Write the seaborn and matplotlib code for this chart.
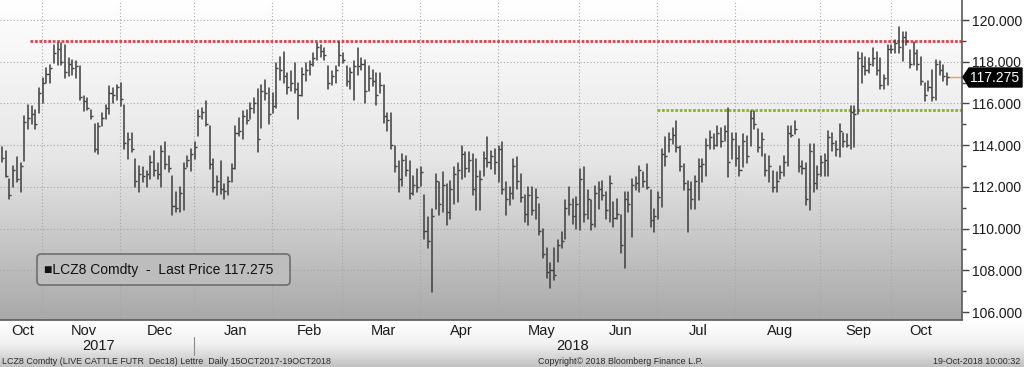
import numpy as np
import pandas as pd
import seaborn as sns
import matplotlib.pyplot as plt
from matplotlib.colors import LinearSegmentedColormap
from matplotlib.patches import FancyBboxPatch, Polygon
from matplotlib.ticker import FormatStrFormatter, MultipleLocator
import matplotlib.transforms as mtrans

# ---- data (LCZ8 daily bars, 16 Oct 2017 - 19 Oct 2018) ----
month_labels = ["Oct", "Nov", "Dec", "Jan", "Feb", "Mar", "Apr",
                "May", "Jun", "Jul", "Aug", "Sep", "Oct"]
days_per_month = [12, 21, 20, 21, 19, 21, 21, 22, 21, 21, 23, 19, 15]
year_labels = ["2017", "2018"]

high = [
    113.9, 113.73, 112.38, 113.02, 113.41, 113.17, 115.40, 115.95, 115.87, 115.71,
    116.75, 117.22, 117.70, 117.86, 118.81, 118.89, 118.89, 118.81, 118.17, 118.10,
    118.02, 117.78, 116.35, 116.27, 115.71, 115.0, 115.08, 115.56, 115.95, 116.83,
    116.75, 116.90, 116.98, 115.95, 114.60, 114.60, 113.33, 113.02, 112.94, 112.78,
    113.49, 113.73, 113.17, 113.97, 114.13, 113.49, 112.54, 111.75, 111.98, 113.17,
    113.49, 113.81, 114.13, 115.71, 115.79, 116.11, 114.92, 113.33, 112.54, 113.25,
    112.14, 112.46, 113.10, 114.92, 115.32, 115.63, 115.71, 116.03, 116.27, 116.67,
    116.90, 117.14, 116.75, 116.51, 117.94, 118.25, 118.49, 117.46, 117.54, 117.94,
    116.98, 117.70, 117.94, 118.02, 118.41, 118.89, 118.81, 118.65, 117.78, 117.54,
    117.78, 118.97, 118.41, 117.78, 117.70, 118.02, 118.65, 118.17, 118.10, 117.78,
    117.62, 117.46, 117.46, 116.90, 115.56, 115.56, 113.97, 113.25, 113.57, 113.49,
    113.25, 112.54, 112.86, 112.94, 111.59, 110.56, 110.95, 112.62, 112.22, 112.70,
    112.14, 112.30, 112.94, 113.17, 113.97, 113.65, 113.65, 113.57, 113.33, 112.78,
    113.65, 114.37, 113.73, 113.81, 113.97, 114.13, 112.22, 111.98, 113.33, 113.41,
    112.62, 111.59, 111.98, 111.98, 111.90, 111.19, 110.0, 109.05, 108.33, 109.05,
    109.44, 109.84, 111.35, 111.98, 111.43, 111.51, 112.86, 112.94, 111.83, 111.35,
    112.06, 112.22, 112.30, 111.75, 112.54, 111.27, 111.43, 110.63, 111.75, 111.75,
    112.38, 112.46, 113.02, 112.70, 113.10, 111.83, 110.95, 111.75, 113.81, 114.37,
    114.60, 114.84, 115.16, 113.97, 113.10, 112.30, 112.22, 112.54, 113.33, 113.33,
    114.29, 114.68, 114.52, 114.92, 114.84, 114.92, 115.79, 114.60, 114.60, 113.97,
    114.52, 114.44, 115.63, 115.63, 114.76, 114.60, 113.57, 113.49, 112.78, 112.70,
    113.02, 113.49, 114.92, 114.92, 115.16, 114.29, 113.25, 113.17, 114.05, 114.05,
    113.02, 113.49, 113.57, 114.68, 114.60, 114.21, 115.0, 114.60, 114.52, 115.87,
    115.87, 118.49, 118.41, 118.25, 118.17, 118.65, 118.49, 118.17, 117.38, 118.81,
    118.81, 119.05, 119.68, 119.44, 119.44, 118.57, 118.97, 118.57, 118.25, 116.98,
    117.06, 117.62, 118.10, 118.02, 117.86, 117.46,
]

low = [
    113.2, 112.46, 111.43, 111.98, 112.22, 111.75, 113.25, 114.76, 115.0, 114.76,
    115.56, 116.03, 116.98, 116.98, 117.94, 117.86, 117.86, 117.22, 117.30, 117.38,
    117.22, 116.19, 115.63, 115.71, 115.24, 113.65, 113.57, 114.92, 115.24, 115.48,
    116.03, 116.19, 115.87, 113.81, 113.33, 113.65, 111.98, 111.75, 112.22, 111.98,
    112.38, 112.54, 112.38, 111.98, 112.86, 112.70, 110.63, 110.79, 110.79, 110.87,
    112.94, 112.78, 113.33, 114.44, 115.24, 114.92, 112.86, 111.75, 111.59, 111.67,
    111.43, 111.59, 112.22, 112.86, 114.44, 114.29, 115.0, 115.24, 115.56, 113.65,
    114.84, 116.19, 115.0, 115.56, 115.79, 117.14, 116.98, 116.43, 116.59, 116.51,
    115.24, 116.35, 117.06, 117.38, 117.78, 118.10, 118.25, 118.10, 116.67, 116.90,
    116.98, 117.78, 117.94, 116.83, 116.67, 116.19, 117.38, 117.62, 116.03, 116.59,
    116.83, 115.95, 116.51, 115.08, 114.68, 113.81, 112.70, 111.75, 112.06, 112.54,
    111.43, 111.59, 111.75, 112.06, 109.52, 109.05, 106.98, 110.95, 110.63, 110.79,
    110.16, 110.48, 111.19, 111.27, 112.38, 112.46, 112.70, 111.59, 110.87, 110.87,
    112.54, 112.94, 112.86, 112.62, 112.22, 111.67, 110.63, 111.11, 111.43, 111.90,
    111.27, 110.32, 110.16, 110.63, 110.48, 109.68, 108.57, 107.62, 107.14, 107.54,
    108.41, 109.05, 109.52, 110.63, 110.24, 110.0, 109.92, 110.32, 110.48, 109.92,
    110.08, 110.95, 111.35, 110.48, 110.32, 110.08, 110.48, 108.81, 108.10, 110.79,
    109.60, 111.83, 111.75, 111.98, 111.90, 110.08, 109.84, 110.48, 111.03, 113.02,
    113.65, 114.05, 113.65, 112.78, 111.83, 109.84, 110.95, 110.95, 111.35, 112.22,
    112.54, 113.81, 113.81, 113.97, 113.89, 114.21, 112.46, 113.33, 113.02, 112.54,
    112.94, 113.17, 113.97, 114.76, 113.65, 113.49, 112.54, 112.22, 111.75, 111.75,
    112.38, 112.54, 113.02, 114.37, 114.52, 112.70, 112.62, 111.11, 110.87, 111.75,
    111.90, 112.54, 112.54, 112.54, 113.73, 113.49, 113.41, 113.89, 113.89, 113.81,
    113.89, 115.48, 116.98, 117.38, 117.46, 117.78, 117.38, 116.67, 116.67, 116.90,
    118.41, 118.41, 118.41, 118.02, 118.81, 117.70, 117.86, 117.62, 116.90, 116.11,
    116.59, 116.11, 116.19, 117.38, 117.06, 116.90,
]

close = [
    113.4, 112.5, 111.6, 112.8, 112.4, 113.0, 115.1, 115.3, 115.5, 115.0,
    116.5, 117.0, 117.4, 117.7, 118.4, 118.6, 118.0, 117.5, 117.9, 117.7,
    117.8, 116.3, 116.1, 115.8, 115.4, 113.8, 114.9, 115.3, 115.8, 116.5,
    116.4, 116.8, 116.2, 114.1, 114.3, 113.8, 112.3, 112.6, 112.5, 112.6,
    113.2, 112.8, 112.6, 113.7, 113.1, 112.9, 111.1, 111.0, 111.7, 112.9,
    113.3, 113.6, 113.9, 115.4, 115.6, 115.0, 113.1, 112.0, 112.3, 111.9,
    111.8, 112.3, 112.9, 114.6, 114.7, 115.4, 115.2, 115.8, 116.0, 114.3,
    116.6, 116.5, 115.5, 115.9, 117.7, 117.6, 117.3, 116.8, 117.0, 116.7,
    116.4, 117.4, 117.6, 117.9, 118.2, 118.7, 118.5, 118.3, 117.0, 117.3,
    117.6, 118.3, 118.1, 117.1, 117.5, 117.8, 117.8, 117.9, 116.6, 117.2,
    117.1, 116.4, 116.9, 115.4, 115.2, 114.0, 113.0, 112.4, 113.3, 112.8,
    111.7, 112.1, 112.0, 112.7, 109.9, 109.4, 110.6, 112.3, 111.2, 112.1,
    110.8, 111.9, 112.6, 112.8, 113.6, 112.9, 113.3, 111.9, 112.5, 112.4,
    113.4, 113.2, 113.5, 113.2, 113.8, 111.9, 111.4, 111.7, 113.0, 112.3,
    111.5, 110.7, 111.6, 110.9, 111.5, 109.9, 108.8, 107.9, 108.0, 107.8,
    109.2, 109.4, 111.0, 111.2, 110.6, 111.2, 112.4, 110.7, 111.4, 110.2,
    111.7, 111.9, 111.6, 110.9, 112.2, 110.5, 110.7, 109.2, 111.4, 111.2,
    112.1, 112.2, 112.8, 112.3, 112.0, 110.4, 110.6, 111.5, 113.6, 113.5,
    114.3, 114.5, 113.9, 113.0, 112.2, 111.9, 111.4, 112.3, 113.0, 113.1,
    114.0, 114.4, 114.0, 114.6, 114.2, 114.7, 113.2, 114.3, 113.4, 112.8,
    114.2, 113.5, 115.3, 115.0, 113.9, 114.3, 112.8, 113.0, 112.0, 112.3,
    112.7, 113.2, 114.6, 114.5, 114.8, 113.0, 112.9, 111.4, 113.7, 112.2,
    112.6, 113.2, 113.3, 114.4, 114.1, 113.8, 114.7, 114.2, 114.0, 115.6,
    115.5, 118.2, 117.8, 117.6, 117.9, 118.2, 117.6, 116.9, 117.2, 118.6,
    118.6, 118.9, 118.7, 119.2, 119.0, 117.9, 118.4, 117.9, 117.1, 116.4,
    116.8, 116.3, 117.9, 117.6, 117.3, 117.275,
]

last_price = 117.275
resistance = 119.0
support = 115.7

# ---- style ----
sns.set_style("white")
plt.rcParams['font.family'] = ['Liberation Sans', 'DejaVu Sans']

n = len(high)
idx = np.arange(n)
bars = pd.DataFrame({"bar": np.concatenate([idx, idx]),
                     "price": np.array(high + low)})

starts = np.concatenate([[0], np.cumsum(days_per_month)[:-1]])
ends = np.cumsum(days_per_month) - 1
grid_x = starts[1:] - 1.2
xmin, xmax = -0.54, 259.05
ymin, ymax = 105.62, 120.96

fig = plt.figure(figsize=(10.24, 3.67), dpi=100)
fig.patch.set_facecolor("white")

# bottom band gradient
band = fig.add_axes([0, 0, 1, 47 / 367])
band_cmap = LinearSegmentedColormap.from_list("band", ["#ffffff", "#f2f2f2", "#c2c2c2"])
band.imshow(np.linspace(0, 1, 100).reshape(-1, 1), aspect="auto", cmap=band_cmap,
            extent=[0, 1, 0, 1], origin="upper")
band.axis("off")

ax = fig.add_axes([0, 47 / 367, 962 / 1024, 320 / 367])
bg_cmap = LinearSegmentedColormap.from_list("bg", ["#ffffff", "#e6e6e6", "#a9a9a9"])
ax.imshow(np.linspace(0, 1, 256).reshape(-1, 1), aspect="auto", cmap=bg_cmap,
          extent=[xmin, xmax, ymin, ymax], origin="upper", zorder=0)

# high-low bars
sns.lineplot(data=bars, x="bar", y="price", units="bar", estimator=None,
             color="#3d3d3d", linewidth=1.1, legend=False, ax=ax, zorder=3)
ax.hlines(close, idx, idx + 0.55, colors="#3d3d3d", lw=1.0, zorder=3)

# reference lines
ax.hlines(resistance, 7.6, xmax, colors="#e2404a", linestyles=(0, (1, 0.6)), lw=2.0, zorder=2)
ax.hlines(support, grid_x[8], xmax, colors="#8db22a", linestyles=(0, (1, 0.6)), lw=2.0, zorder=2)
ax.hlines(last_price, idx[-1], xmax, colors="#eba04a", lw=1.0, zorder=2)

ax.set_xlim(xmin, xmax)
ax.set_ylim(ymin, ymax)
ax.set_xlabel("")
ax.set_ylabel("")

# axes / grid
ax.yaxis.tick_right()
ax.yaxis.set_major_locator(MultipleLocator(2))
ax.yaxis.set_minor_locator(MultipleLocator(1))
ax.yaxis.set_major_formatter(FormatStrFormatter("%.3f"))
ax.set_xticks(grid_x)
ax.set_xticklabels([])
ax.tick_params(axis="y", which="major", length=5, width=1, color="#444444",
               labelsize=10, labelcolor="#1a1a1a", pad=2)
ax.tick_params(axis="y", which="minor", length=3, width=1, color="#444444")
ax.tick_params(axis="x", length=3, width=1, color="#555555")
ax.grid(True, which="major", linestyle=(0, (1, 2)), color="#a6a6a6", lw=0.8)
for s in ["top", "left"]:
    ax.spines[s].set_visible(False)
for s in ["bottom", "right"]:
    ax.spines[s].set_color("#5a5a5a")
    ax.spines[s].set_linewidth(1.2)

# month / year labels
tr = mtrans.blended_transform_factory(ax.transData, fig.transFigure)
for lab, a, b in zip(month_labels, starts, ends):
    ax.text((a + b) / 2, 1 - 331 / 367, lab, transform=tr, ha="center", va="center",
            fontsize=10.5, color="#1a1a1a", clip_on=False)
ax.text((starts[0] + ends[2]) / 2, 1 - 346 / 367, year_labels[0], transform=tr,
        ha="center", va="center", fontsize=10.5, color="#1a1a1a", clip_on=False)
ax.text((starts[3] + ends[-1]) / 2, 1 - 346 / 367, year_labels[1], transform=tr,
        ha="center", va="center", fontsize=10.5, color="#1a1a1a", clip_on=False)
fig.add_artist(plt.Line2D([grid_x[2], grid_x[2]], [1 - 355 / 367, 1 - 337 / 367],
                          transform=tr, color="#8a8a8a", lw=0.8))

# legend box
fig.add_artist(FancyBboxPatch((37 / 1024, 82 / 367), 253 / 1024, 31 / 367,
                              boxstyle="round,pad=0,rounding_size=0.004",
                              mutation_aspect=1024 / 367, transform=fig.transFigure,
                              facecolor="#bdbdbd", edgecolor="#6e6e6e", lw=1.2))
fig.text(44 / 1024, 1 - 270 / 367, "■LCZ8 Comdty  -  Last Price 117.275",
         fontsize=10, color="#111111", va="center", ha="left")

# last price tag
fig.add_artist(Polygon([(963 / 1024, 1 - 77 / 367), (969 / 1024, 1 - 68 / 367),
                        (1022 / 1024, 1 - 68 / 367), (1022 / 1024, 1 - 87 / 367),
                        (969 / 1024, 1 - 87 / 367)], closed=True,
                       transform=fig.transFigure, facecolor="black", edgecolor="black"))
fig.text(995 / 1024, 1 - 77.5 / 367, f"{last_price:.3f}", fontsize=10, color="white",
         ha="center", va="center")

# footer
fig.text(2 / 1024, 1 - 361 / 367, "LCZ8 Comdty (LIVE CATTLE FUTR  Dec18) Lettre  Daily 15OCT2017-19OCT2018",
         fontsize=6.4, color="#2a2a2a", ha="left", va="center")
fig.text(620 / 1024, 1 - 361 / 367, "Copyright© 2018 Bloomberg Finance L.P.",
         fontsize=6.4, color="#2a2a2a", ha="center", va="center")
fig.text(1020 / 1024, 1 - 361 / 367, "19-Oct-2018 10:00:32",
         fontsize=6.4, color="#2a2a2a", ha="right", va="center")

fig.savefig("out.png", dpi=100, facecolor=fig.get_facecolor())
